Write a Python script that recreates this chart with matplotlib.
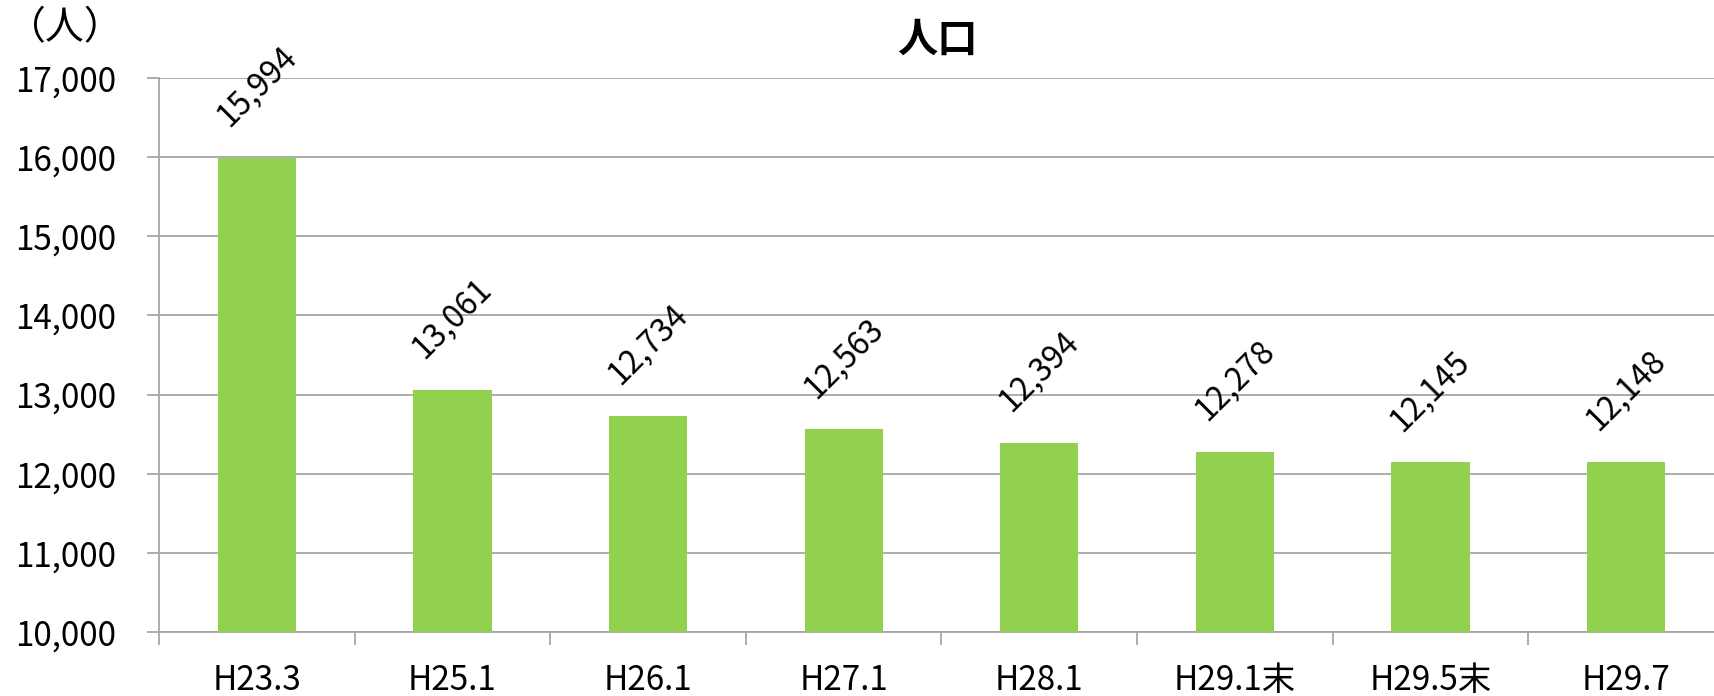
import matplotlib
matplotlib.use("Agg")
import matplotlib.pyplot as plt
import numpy as np

# data
periods = ["H23.3", "H25.1", "H26.1", "H27.1", "H28.1", "H29.1末", "H29.5末", "H29.7"]
population = [15994, 13061, 12734, 12563, 12394, 12278, 12145, 12148]
y_ticks = [10000, 11000, 12000, 13000, 14000, 15000, 16000, 17000]

plt.rcParams['font.family'] = ['Noto Sans CJK JP', 'DejaVu Sans']

fig = plt.figure(figsize=(17.15, 6.96), dpi=100)
ax = fig.add_axes([159 / 1715, 1 - 632 / 696, 1565 / 1715, (632 - 78) / 696])

x = np.arange(len(periods))
bars = ax.bar(x, population, width=0.4, color="#92D050", zorder=3)

# value labels, rotated
for xi, v in zip(x, population):
    ax.annotate(f"{v:,}", (xi, v), xytext=(0, 18), textcoords="offset points",
                ha="center", va="bottom", rotation=45, fontsize=23)

ax.set_ylim(10000, 17000)
ax.set_xlim(-0.5, len(periods) - 0.5)
ax.set_yticks(y_ticks)
ax.set_yticklabels([f"{t:,}" for t in y_ticks], fontsize=24)
ax.grid(axis="y", color="#a6a6a6", linewidth=1.3, zorder=0)

ax.set_xticks(x)
ax.set_xticklabels(periods, fontsize=24)
ax.set_xticks(np.arange(len(periods) + 1) - 0.5, minor=True)
ax.tick_params(axis="x", which="major", length=0, pad=22)
ax.tick_params(axis="x", which="minor", length=9, color="#a6a6a6", width=1.3)
ax.tick_params(axis="y", length=9, color="#a6a6a6", width=1.3, pad=22)

for s in ["top", "right"]:
    ax.spines[s].set_visible(False)
for s in ["left", "bottom"]:
    ax.spines[s].set_color("#a6a6a6")
    ax.spines[s].set_linewidth(1.3)

fig.text(937 / 1715, 1 - 40 / 696, "人口", ha="center", va="center",
         fontsize=29, fontweight="bold")
fig.text(65 / 1715, 1 - 28 / 696, "（人）", ha="center", va="center", fontsize=28)

fig.savefig("out.png", dpi=100)
